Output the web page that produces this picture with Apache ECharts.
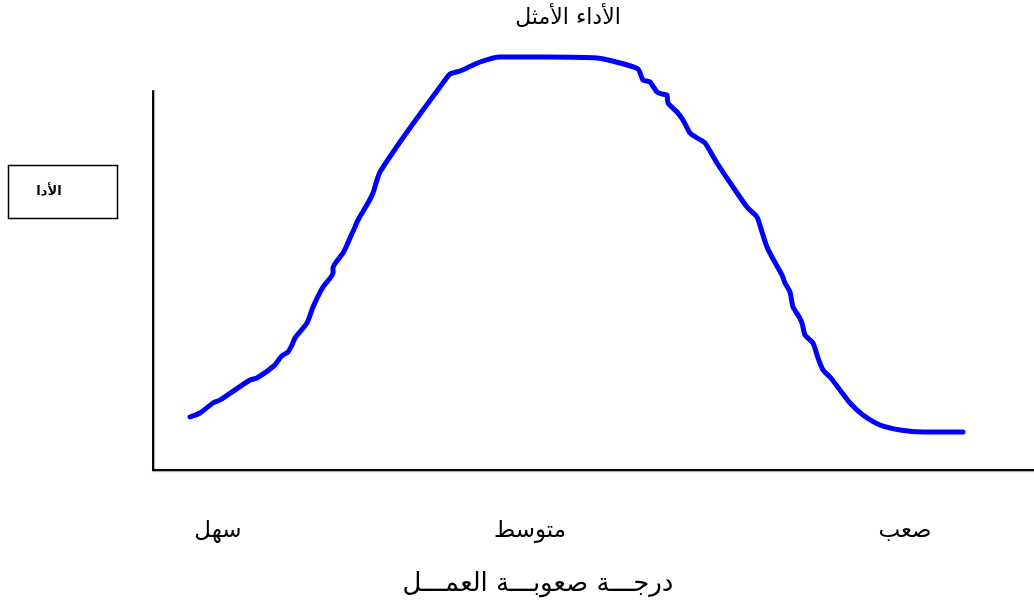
<!DOCTYPE html>
<html><head><meta charset="utf-8">
<script src="https://cdn.jsdelivr.net/npm/echarts@6/dist/echarts.min.js"></script>
<style>html,body{margin:0;padding:0;background:#fff}#c{width:1034px;height:610px}</style>
</head><body><div id="c"></div>
<script>
// Difficulty (x) and performance (y) values (arbitrary units)
const difficulty = [37,47,60,67,97,104,122,127,130,135,139,142,154,160,170,180,180,190,194,197,202,205,215,220,224,227,247,270,287,297,307,327,347,394,444,467,485,490,497,504,509,514,515,524,530,537,544,552,564,580,594,604,609,614,619,629,632,637,640,645,649,652,660,665,670,677,687,697,710,727,747,770,810];
const performance = [53,57,67,70,90,92,105,112,115,118,125,132,147,163,183,197,202,217,225,232,243,250,267,277,290,298,328,360,383,396,399,408,413,413,412,407,401,390,388,378,376,375,367,358,350,337,332,327,307,283,263,253,238,223,213,195,187,178,163,155,147,135,127,112,100,93,80,67,55,45,40,38,38];
const tickValues = [65, 377, 752];
const tickLabels = ['سهل', 'متوسط', 'صعب'];
const titleText = 'الأداء الأمثل';
const xName = 'درجـــة صعوبـــة العمـــل';
const yName = 'الأدا';

const chart = echarts.init(document.getElementById('c'), null, {renderer: 'canvas'});
const font = '"DejaVu Sans", Arial, sans-serif';
chart.setOption({
  animation: false,
  backgroundColor: '#fff',
  grid: {left: 153, right: 0, top: 91, bottom: 140},
  xAxis: {
    type: 'value', min: 0, max: 881,
    splitLine: {show: false},
    axisTick: {show: false},
    axisLine: {show: true, lineStyle: {color: '#000', width: 2, shadowColor: 'rgba(0,0,0,0.35)', shadowBlur: 1, shadowOffsetY: 1}},
    axisLabel: {
      customValues: tickValues,
      formatter: v => tickLabels[tickValues.indexOf(v)] ?? '',
      fontSize: 23, color: '#000', fontFamily: font, margin: 50
    }
  },
  yAxis: {
    type: 'value', min: 0, max: 379,
    splitLine: {show: false},
    axisTick: {show: false},
    axisLabel: {show: false},
    axisLine: {show: true, lineStyle: {color: '#000', width: 2, shadowColor: 'rgba(0,0,0,0.35)', shadowBlur: 1, shadowOffsetX: 1}}
  },
  series: [{
    type: 'line',
    data: difficulty.map((x, i) => [x, performance[i]]),
    showSymbol: false,
    clip: false,
    smooth: 0.2,
    lineStyle: {color: '#0000ff', width: 5, cap: 'round', join: 'round'}
  }],
  graphic: [
    {type: 'text', x: 568, y: 18, style: {text: titleText, font: '22px ' + font, fill: '#000', align: 'center', verticalAlign: 'middle'}},
    {type: 'text', x: 538, y: 584, style: {text: xName, font: '26px ' + font, fill: '#000', align: 'center', verticalAlign: 'middle'}},
    {type: 'rect', shape: {x: 8.5, y: 165.5, width: 109, height: 53}, style: {fill: '#fff', stroke: '#000', lineWidth: 1.5}},
    {type: 'text', x: 49, y: 192, style: {text: yName, font: 'bold 13px ' + font, fill: '#000', align: 'center', verticalAlign: 'middle'}}
  ]
});
</script></body></html>
